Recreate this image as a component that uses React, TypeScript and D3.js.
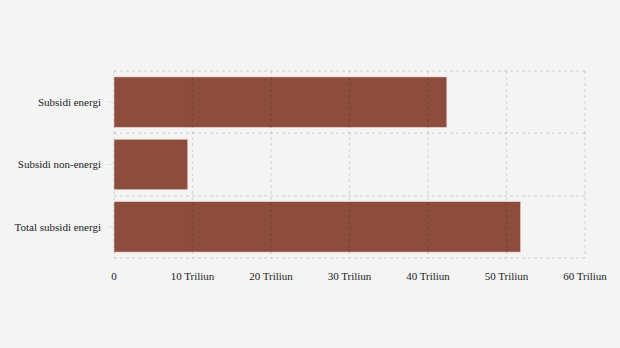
import React from "react";
import * as d3 from "d3";

const categories = ["Subsidi energi", "Subsidi non-energi", "Total subsidi energi"];
const values = [42.4, 9.4, 51.8];
const xTicks = [0, 10, 20, 30, 40, 50, 60];
const tickLabel = (v: number) => (v === 0 ? "0" : `${v} Triliun`);

export default function App() {
  const W = 620, H = 348;
  const left = 114, right = 585, top = 71, bottom = 258;
  const x = d3.scaleLinear().domain([0, 60]).range([left, right]);
  const y = d3.scaleBand<string>().domain(categories).range([top, bottom]).paddingInner(0.19).paddingOuter(0.095);
  const yb = d3.scaleBand<string>().domain(categories).range([top, bottom]);
  const gridColor = "#000";
  const gridOp = 0.1;
  return (
    <svg width={W} height={H} style={{ position: "absolute", left: 0, top: 0, background: "#f4f4f4" }}
      fontFamily="'Liberation Serif', 'DejaVu Serif', serif">
      <rect x={0} y={0} width={W} height={H} fill="#f4f4f4" />
      {categories.map((c, i) => (
        <rect key={c} x={x(0)} y={y(c)!} width={x(values[i]) - x(0)} height={y.bandwidth()}
          fill="#8c4d3d" stroke="#f0d8d4" strokeWidth={0.6} />
      ))}
      {xTicks.map((t) => (
        <line key={"v" + t} x1={x(t)} x2={x(t)} y1={top} y2={bottom} stroke={gridColor}
          strokeWidth={1.5} strokeDasharray="3,3" strokeOpacity={gridOp} />
      ))}
      {[...categories.map((c) => yb(c)!), bottom].map((yy, i) => (
        <line key={"h" + i} x1={left} x2={right} y1={yy} y2={yy} stroke={gridColor}
          strokeWidth={1.5} strokeDasharray="3,3" strokeOpacity={gridOp} />
      ))}
      {categories.map((c) => {
        const cy = yb(c)! + yb.bandwidth() / 2;
        return (
          <g key={"l" + c}>
            <line x1={left - 6} x2={left} y1={cy} y2={cy} stroke="#e0e0e0" strokeWidth={1} />
            <text x={101} y={cy} dy="0.35em" textAnchor="end" fontSize={11} fill="#222">{c}</text>
          </g>
        );
      })}
      {xTicks.map((t) => (
        <text key={"t" + t} x={x(t)} y={280} textAnchor="middle" fontSize={11} fill="#222">{tickLabel(t)}</text>
      ))}
    </svg>
  );
}
